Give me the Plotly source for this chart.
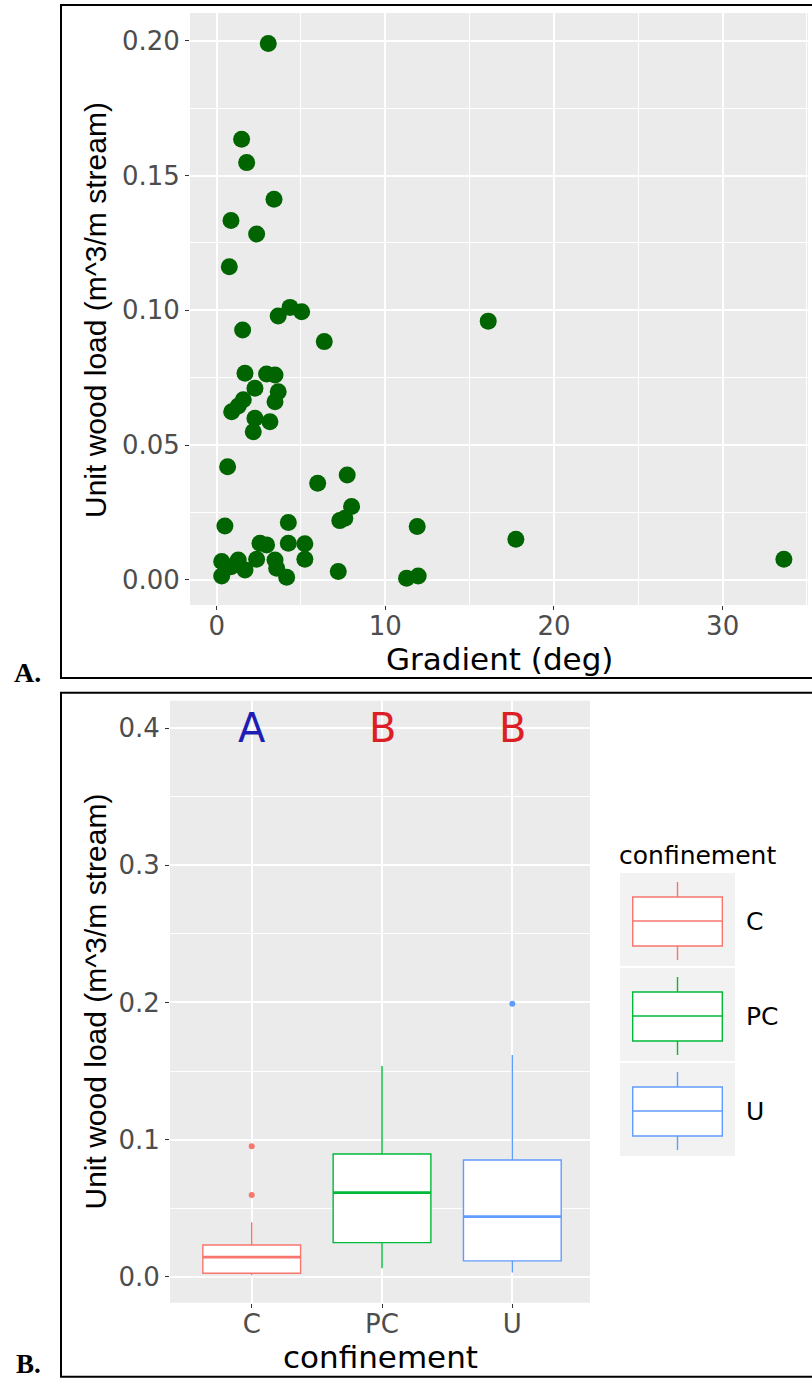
import plotly.graph_objects as go

# ---- Panel A: unit wood load vs. channel gradient ----
gradient_deg = [3.06, 1.48, 1.78, 3.40, 0.85, 2.37, 0.75, 3.65, 4.35, 5.04, 1.54, 6.38, 16.10,
                1.68, 2.96, 3.46, 2.27, 3.65, 1.58, 3.46, 0.89, 2.27, 3.16, 2.17, 1.28,
                0.65, 7.74, 5.99, 8.00, 7.60, 7.30,
                0.49, 4.25, 11.89, 17.74, 2.57, 2.96, 4.25, 5.23, 5.23, 0.30, 1.28, 2.37,
                3.46, 1.68, 3.56, 0.30, 4.15, 7.21, 0.85, 11.26, 11.95, 33.63]
wood_load = [0.1990, 0.1635, 0.1548, 0.1412, 0.1333, 0.1283, 0.1162, 0.0979, 0.1011, 0.0995, 0.0927, 0.0884, 0.0960,
             0.0767, 0.0764, 0.0760, 0.0711, 0.0698, 0.0668, 0.0661, 0.0624, 0.0600, 0.0587, 0.0550, 0.0645,
             0.0420, 0.0389, 0.0359, 0.0272, 0.0229, 0.0220,
             0.0200, 0.0213, 0.0198, 0.0151, 0.0136, 0.0130, 0.0136, 0.0134, 0.0077, 0.0068, 0.0074, 0.0077,
             0.0074, 0.0037, 0.0043, 0.0015, 0.0010, 0.0031, 0.0049, 0.0006, 0.0015, 0.0077]

# ---- Panel B: unit wood load by confinement class ----
confinement = ["C", "PC", "U"]
conf_pos = [1, 2, 3]
conf_colors = ["#F8766D", "#00BA38", "#619CFF"]
box_lower = [0.0010, 0.0061, 0.0030]
box_q1 = [0.0025, 0.0248, 0.0115]
box_median = [0.0142, 0.0613, 0.0438]
box_q3 = [0.0231, 0.0895, 0.0851]
box_upper = [0.0396, 0.1537, 0.1617]
box_outliers = [[0.0595, 0.0951], [], [0.1990]]
sig_letters = ["A", "B", "B"]
sig_colors = ["#1E1EB4", "#DC1F26", "#DC1F26"]
letter_y = 0.4
box_width = 0.75

W, H = 812, 1381


def X(px):
    return px / W


def Y(py):
    return 1 - py / H


TICK_FONT = dict(family="DejaVu Sans", size=26, color="#4D4D4D")
TITLE_FONT = dict(family="DejaVu Sans", size=31, color="black")

fig = go.Figure()

fig.add_trace(go.Scatter(
    x=gradient_deg, y=wood_load, mode="markers",
    marker=dict(color="#006400", size=17, line=dict(width=0)),
    xaxis="x", yaxis="y", showlegend=False,
))

for i, name in enumerate(confinement):
    fig.add_trace(go.Box(
        x=[conf_pos[i]], q1=[box_q1[i]], median=[box_median[i]], q3=[box_q3[i]],
        lowerfence=[box_lower[i]], upperfence=[box_upper[i]],
        width=box_width, whiskerwidth=0, fillcolor="white",
        line=dict(color=conf_colors[i], width=1.4), boxpoints=False,
        name=name, xaxis="x2", yaxis="y2", showlegend=False,
    ))
    # thicker median bar
    fig.add_trace(go.Scatter(
        x=[conf_pos[i] - box_width / 2, conf_pos[i] + box_width / 2],
        y=[box_median[i], box_median[i]], mode="lines",
        line=dict(color=conf_colors[i], width=2.8),
        xaxis="x2", yaxis="y2", showlegend=False, hoverinfo="skip",
    ))
    if box_outliers[i]:
        fig.add_trace(go.Scatter(
            x=[conf_pos[i]] * len(box_outliers[i]), y=box_outliers[i], mode="markers",
            marker=dict(color=conf_colors[i], size=6),
            xaxis="x2", yaxis="y2", showlegend=False,
        ))

axis_common = dict(
    showline=False, zeroline=False, showgrid=True, gridcolor="white", gridwidth=2,
    ticks="outside", ticklen=4, tickwidth=1.3, tickcolor="#333333",
    tickfont=TICK_FONT,
)

fig.update_layout(
    width=W, height=H,
    margin=dict(l=0, r=0, t=0, b=0),
    paper_bgcolor="white", plot_bgcolor="#EBEBEB",
    xaxis=dict(axis_common, domain=[X(190), X(808)], range=[-1.58, 35.06],
               tickvals=[0, 10, 20, 30], anchor="y", ticklabelstandoff=-6,
               minor=dict(dtick=5, tick0=5, showgrid=True, gridcolor="white", gridwidth=1, ticks="")),
    yaxis=dict(axis_common, domain=[Y(605), Y(13)], range=[-0.0093, 0.2103],
               tickvals=[0, 0.05, 0.10, 0.15, 0.20], tickformat=".2f", anchor="x",
               minor=dict(dtick=0.05, tick0=0.025, showgrid=True, gridcolor="white", gridwidth=1, ticks="")),
    xaxis2=dict(axis_common, domain=[X(170), X(590)], range=[0.373, 3.596],
                tickvals=conf_pos, ticktext=confinement, anchor="y2", ticklabelstandoff=-6),
    yaxis2=dict(axis_common, domain=[Y(1302.7), Y(700.7)], range=[-0.019, 0.4201],
                tickvals=[0, 0.1, 0.2, 0.3, 0.4], tickformat=".1f", anchor="x2",
                minor=dict(dtick=0.1, tick0=0.05, showgrid=True, gridcolor="white", gridwidth=1, ticks="")),
)

annotations = []
# axis titles
annotations.append(dict(text="Gradient (deg)", x=X(499), y=Y(659), xref="paper", yref="paper",
                        showarrow=False, font=TITLE_FONT, xanchor="center", yanchor="middle"))
annotations.append(dict(text="confinement", x=X(380), y=Y(1357), xref="paper", yref="paper",
                        showarrow=False, font=TITLE_FONT, xanchor="center", yanchor="middle"))
for yc in (310, 1001.5):
    annotations.append(dict(text="Unit wood load (m^3/m stream)", x=X(95), y=Y(yc),
                            xref="paper", yref="paper", showarrow=False, textangle=-90,
                            font=dict(family="Liberation Sans", size=30, color="black"),
                            xanchor="center", yanchor="middle"))
# significance letters
for i, letter in enumerate(sig_letters):
    annotations.append(dict(text=letter, x=conf_pos[i], y=letter_y, xref="x2", yref="y2",
                            showarrow=False, xanchor="center", yanchor="middle",
                            font=dict(family="DejaVu Sans", size=40, color=sig_colors[i])))
# panel labels
annotations.append(dict(text="<b>A.</b>", x=X(27), y=Y(672), xref="paper", yref="paper",
                        showarrow=False, font=dict(family="Liberation Serif", size=28, color="black"),
                        xanchor="center", yanchor="middle"))
annotations.append(dict(text="<b>B.</b>", x=X(28), y=Y(1364), xref="paper", yref="paper",
                        showarrow=False, font=dict(family="Liberation Serif", size=27, color="black"),
                        xanchor="center", yanchor="middle"))

# legend for the box plot
annotations.append(dict(text="confinement", x=X(617), y=Y(855), xref="paper", yref="paper",
                        showarrow=False, xanchor="left", yanchor="middle",
                        font=dict(family="DejaVu Sans", size=25, color="black")))
shapes = []
key_left, key_right, key_h = 620, 735, 94
key_tops = [873, 968, 1063]
bx0, bx1, bxc = 632.7, 722.3, 677.5
for i, name in enumerate(confinement):
    top = key_tops[i]
    col = conf_colors[i]
    shapes.append(dict(type="rect", xref="paper", yref="paper",
                       x0=X(key_left), x1=X(key_right), y0=Y(top + key_h - 1), y1=Y(top),
                       fillcolor="#F2F2F2", line=dict(width=0), layer="below"))
    shapes.append(dict(type="line", xref="paper", yref="paper", x0=X(bxc), x1=X(bxc),
                       y0=Y(top + 9), y1=Y(top + 24), line=dict(color=col, width=1.4)))
    shapes.append(dict(type="line", xref="paper", yref="paper", x0=X(bxc), x1=X(bxc),
                       y0=Y(top + 73), y1=Y(top + 87), line=dict(color=col, width=1.4)))
    shapes.append(dict(type="rect", xref="paper", yref="paper", x0=X(bx0), x1=X(bx1),
                       y0=Y(top + 73), y1=Y(top + 24), fillcolor="white",
                       line=dict(color=col, width=1.4)))
    shapes.append(dict(type="line", xref="paper", yref="paper", x0=X(bx0), x1=X(bx1),
                       y0=Y(top + 48), y1=Y(top + 48), line=dict(color=col, width=1.4)))
    annotations.append(dict(text=name, x=X(744), y=Y(top + 48), xref="paper", yref="paper",
                            showarrow=False, xanchor="left", yanchor="middle",
                            font=dict(family="DejaVu Sans", size=25, color="black")))

# outer frames around each panel
shapes.append(dict(type="rect", xref="paper", yref="paper", x0=X(61), x1=X(815),
                   y0=Y(678), y1=Y(5), line=dict(color="black", width=2), fillcolor="rgba(0,0,0,0)"))
shapes.append(dict(type="rect", xref="paper", yref="paper", x0=X(61), x1=X(815),
                   y0=Y(1376.7), y1=Y(692.7), line=dict(color="black", width=2), fillcolor="rgba(0,0,0,0)"))

fig.update_layout(annotations=annotations, shapes=shapes)

fig.write_html("out.html")
